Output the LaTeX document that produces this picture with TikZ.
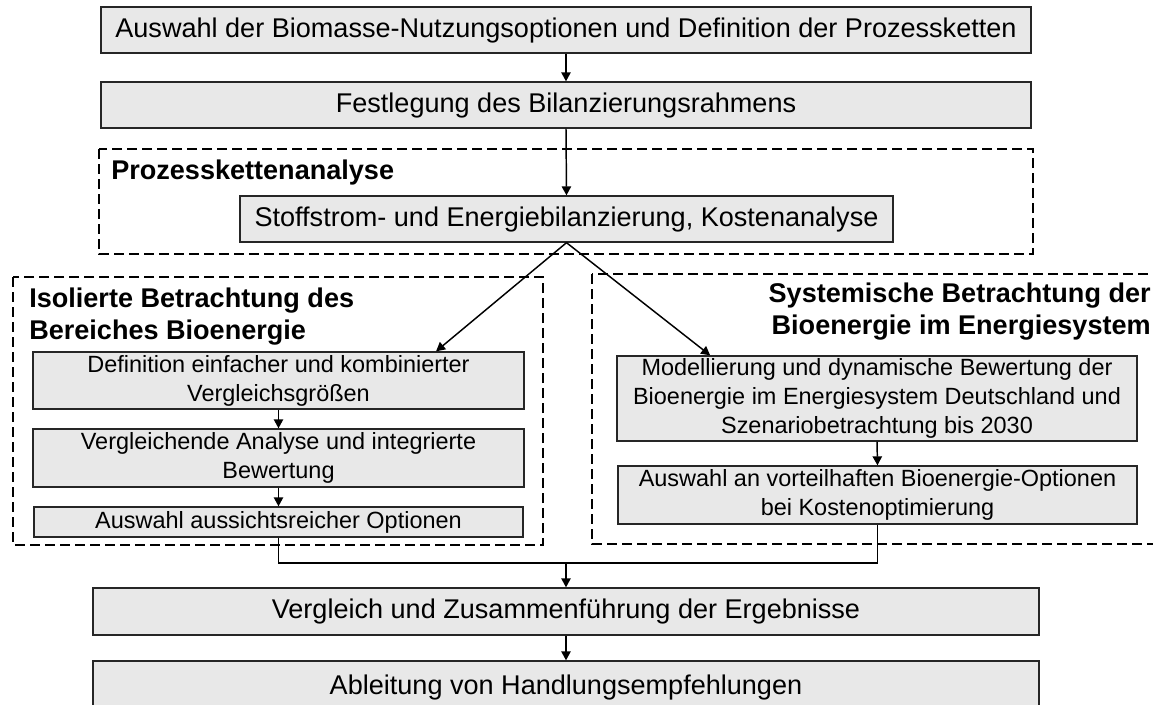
\documentclass[tikz,border=0pt]{standalone}
\usepackage{fontspec}
\setmainfont{Liberation Sans}
\usetikzlibrary{arrows.meta,calc}
\begin{document}
\begin{tikzpicture}[x=0.75pt,y=-0.75pt,
  box/.style={draw=black!85,line width=1pt,fill=black!9,inner sep=0pt,align=center,text=black},
  bigtxt/.style={font=\fontsize{20.3}{24}\selectfont},
  smalltxt/.style={font=\fontsize{17.6}{21.75}\selectfont},
  titletxt/.style={font=\fontsize{20.3}{24}\selectfont\bfseries,inner sep=0pt},
  dbox/.style={draw=black,line width=2.15pt,dash pattern=on 7.25pt off 4pt},
  arr/.style={draw=black,line width=1.1pt,-{Triangle[length=6.75pt,width=7pt]}},
  conn/.style={draw=black,line width=1.1pt}]
\useasboundingbox (0,0) rectangle (1153,704);
\clip (0,0) rectangle (1153,704);
\fill[white] (0,0) rectangle (1153,704);

% dashed group frames
\draw[dbox] (99,149) rectangle (1033,254);
\draw[dbox] (13,277) rectangle (543,545);
\draw[dbox] (592,274) rectangle (1170,544);

% titles
\node[titletxt,anchor=west] (tProz) at (111,172) {Prozesskettenanalyse};
\node[titletxt,anchor=west,align=left] (tIso) at (29,317) {Isolierte Betrachtung des\\Bereiches Bioenergie};
\node[titletxt,anchor=east,align=right] (tSys) at (1151,312) {Systemische Betrachtung der\\Bioenergie im Energiesystem};

% boxes
\node[box,bigtxt,minimum width=697.5pt,minimum height=34.5pt] (b1) at (566,30) {Auswahl der Biomasse-Nutzungsoptionen und Definition der Prozessketten};
\node[box,bigtxt,minimum width=697.5pt,minimum height=34.5pt] (b2) at (566,105) {Festlegung des Bilanzierungsrahmens};
\node[box,bigtxt,minimum width=489.75pt,minimum height=34.5pt] (st) at (566.5,219) {Stoffstrom- und Energiebilanzierung, Kostenanalyse};

\node[box,smalltxt,minimum width=368.25pt,minimum height=42.75pt] (def) at (278.5,380.5) {Definition einfacher und kombinierter\\Vergleichsgrößen};
\node[box,smalltxt,minimum width=368.25pt,minimum height=43.5pt] (vgl) at (278.5,458) {Vergleichende Analyse und integrierte\\Bewertung};
\node[box,smalltxt,minimum width=366.75pt,minimum height=22.5pt] (aus) at (278.5,522) {Auswahl aussichtsreicher Optionen};

\node[box,smalltxt,minimum width=390pt,minimum height=63.75pt] (mod) at (877,398.5) {Modellierung und dynamische Bewertung der\\Bioenergie im Energiesystem Deutschland und\\Szenariobetrachtung bis 2030};
\node[box,smalltxt,minimum width=389.25pt,minimum height=43.5pt] (aus2) at (877.5,495) {Auswahl an vorteilhaften Bioenergie-Optionen\\bei Kostenoptimierung};

\node[box,bigtxt,minimum width=709.5pt,minimum height=35.25pt] (erg) at (566,611.5) {Vergleich und Zusammenführung der Ergebnisse};
\node[box,bigtxt,minimum width=709.5pt,minimum height=39pt] (abl) at (566,687) {Ableitung von Handlungsempfehlungen};

% connectors
\draw[arr] (b1.south) -- (b2.north);
\draw[arr] (b2.south) -- (st.north);
\draw[arr] (st.south) -- ($(def.north west)!0.82!(def.north east)$);
\draw[arr] (st.south) -- ($(mod.north west)!0.18!(mod.north east)$);
\draw[arr] (def.south) -- (vgl.north);
\draw[arr] (vgl.south) -- (aus.north);
\draw[arr] (mod.south) -- (aus2.north);
\coordinate (j) at (566,563);
\draw[conn] (aus.south) |- (j) -| (aus2.south);
\draw[arr] (j) -- (erg.north);
\draw[arr] (erg.south) -- (abl.north);
\end{tikzpicture}
\end{document}
